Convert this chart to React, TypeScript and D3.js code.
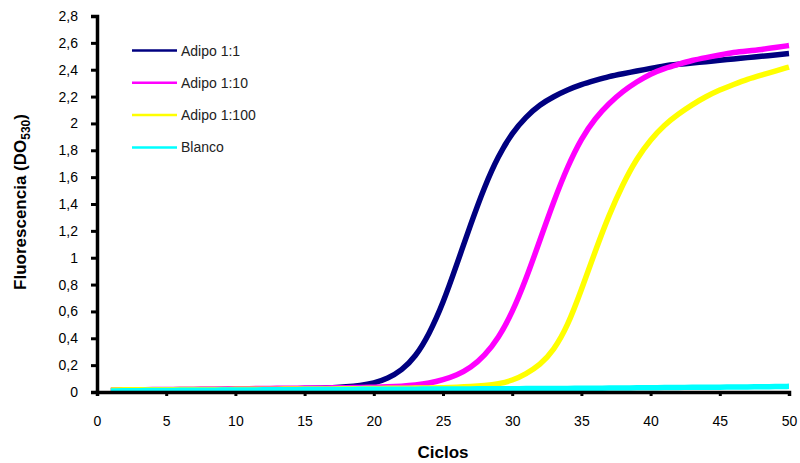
import React, { useRef, useEffect } from 'react';
import * as d3 from 'd3';

// cycles 1..50
const ciclos = d3.range(1, 51);

const adipo1 = [
  0.010, 0.010, 0.012, 0.013, 0.014, 0.015, 0.016, 0.017, 0.018, 0.019,
  0.020, 0.021, 0.022, 0.024, 0.026, 0.028, 0.032, 0.038, 0.048, 0.065,
  0.100, 0.160, 0.260, 0.430, 0.660, 0.950, 1.250, 1.530, 1.760, 1.930,
  2.050, 2.140, 2.200, 2.250, 2.290, 2.320, 2.350, 2.370, 2.390, 2.410,
  2.430, 2.440, 2.450, 2.460, 2.470, 2.480, 2.490, 2.500, 2.510, 2.520,
];

const adipo10 = [
  0.015, 0.016, 0.017, 0.018, 0.019, 0.020, 0.021, 0.022, 0.023, 0.024,
  0.025, 0.026, 0.027, 0.028, 0.029, 0.030, 0.031, 0.032, 0.033, 0.035,
  0.038, 0.043, 0.051, 0.065, 0.090, 0.125, 0.180, 0.270, 0.400, 0.590,
  0.840, 1.130, 1.420, 1.680, 1.890, 2.040, 2.150, 2.240, 2.310, 2.370,
  2.410, 2.440, 2.470, 2.490, 2.510, 2.530, 2.540, 2.550, 2.565, 2.580,
];

const adipo100 = [
  0.015, 0.016, 0.016, 0.017, 0.017, 0.018, 0.018, 0.019, 0.019, 0.020,
  0.020, 0.021, 0.021, 0.022, 0.022, 0.023, 0.023, 0.024, 0.025, 0.026,
  0.027, 0.028, 0.029, 0.030, 0.032, 0.035, 0.040, 0.048, 0.060, 0.085,
  0.135, 0.200, 0.310, 0.490, 0.760, 1.050, 1.320, 1.550, 1.740, 1.880,
  1.990, 2.070, 2.140, 2.200, 2.250, 2.290, 2.330, 2.360, 2.390, 2.420,
];

const blanco = [
  0.008, 0.009, 0.010, 0.011, 0.012, 0.012, 0.013, 0.013, 0.014, 0.015,
  0.015, 0.016, 0.016, 0.017, 0.018, 0.018, 0.019, 0.019, 0.020, 0.020,
  0.020, 0.021, 0.021, 0.022, 0.022, 0.023, 0.023, 0.024, 0.024, 0.025,
  0.025, 0.026, 0.026, 0.027, 0.027, 0.028, 0.029, 0.030, 0.031, 0.032,
  0.033, 0.034, 0.035, 0.035, 0.036, 0.037, 0.038, 0.039, 0.040, 0.042,
];

const seriesNames = ['Adipo 1:1', 'Adipo 1:10', 'Adipo 1:100', 'Blanco'];
const seriesColors = ['#000080', '#FF00FF', '#FFFF00', '#00FFFF'];
const seriesValues = [adipo1, adipo10, adipo100, blanco];

const xTicks = [0, 5, 10, 15, 20, 25, 30, 35, 40, 45, 50];
const yTicks = [0, 0.2, 0.4, 0.6, 0.8, 1, 1.2, 1.4, 1.6, 1.8, 2, 2.2, 2.4, 2.6, 2.8];

const W = 800, H = 463;
const margin = { top: 16, right: 11, bottom: 71, left: 97 };
const font = 'Arial, "Liberation Sans", sans-serif';

const App = () => {
  const ref = useRef(null);

  useEffect(() => {
    const svg = d3.select(ref.current);
    svg.selectAll('*').remove();

    const x = d3.scaleLinear().domain([0, 50]).range([margin.left, W - margin.right]);
    const y = d3.scaleLinear().domain([0, 2.8]).range([H - margin.bottom, margin.top]);
    const fmt = (v) => String(+v.toFixed(1)).replace('.', ',');

    // lines
    const line = d3.line()
      .x((d, i) => x(ciclos[i]))
      .y((d) => y(d))
      .curve(d3.curveBasis);

    seriesValues.forEach((vals, k) => {
      svg.append('path')
        .attr('d', line(vals))
        .attr('fill', 'none')
        .attr('stroke', seriesColors[k])
        .attr('stroke-width', 5.5)
        .attr('stroke-linejoin', 'round');
    });

    // y axis
    const yAxis = svg.append('g')
      .attr('transform', `translate(${margin.left},0)`)
      .call(d3.axisLeft(y).tickValues(yTicks).tickFormat(fmt).tickSize(6).tickPadding(13));
    yAxis.select('.domain').attr('stroke', '#000').attr('stroke-width', 3.5);
    yAxis.selectAll('.tick line').attr('stroke', '#000').attr('stroke-width', 3);
    yAxis.selectAll('.tick text')
      .attr('font-family', font).attr('font-size', 14).attr('fill', '#000');

    // x axis
    const xAxis = svg.append('g')
      .attr('transform', `translate(0,${H - margin.bottom})`)
      .call(d3.axisBottom(x).tickValues(xTicks).tickFormat(d3.format('d')).tickSize(4).tickPadding(20));
    xAxis.select('.domain').attr('stroke', '#000').attr('stroke-width', 3.5);
    xAxis.selectAll('.tick line').attr('stroke', '#000').attr('stroke-width', 3);
    xAxis.selectAll('.tick text')
      .attr('font-family', font).attr('font-size', 14).attr('fill', '#000');

    // titles
    svg.append('text')
      .attr('x', (margin.left + W - margin.right) / 2)
      .attr('y', 458)
      .attr('text-anchor', 'middle')
      .attr('font-family', font).attr('font-size', 17).attr('font-weight', 'bold')
      .text('Ciclos');

    const yt = svg.append('text')
      .attr('transform', `translate(26,202) rotate(-90)`)
      .attr('text-anchor', 'middle')
      .attr('font-family', font).attr('font-size', 17).attr('font-weight', 'bold');
    yt.append('tspan').text('Fluorescencia (DO');
    yt.append('tspan').attr('font-size', 12).attr('dy', 4).text('530');
    yt.append('tspan').attr('dy', -4).text(')');

    // legend
    const leg = svg.append('g');
    seriesNames.forEach((name, k) => {
      const ly = 50.5 + k * 32.3;
      leg.append('line')
        .attr('x1', 132).attr('x2', 177).attr('y1', ly).attr('y2', ly)
        .attr('stroke', seriesColors[k]).attr('stroke-width', 2.5);
      leg.append('text')
        .attr('x', 181).attr('y', ly + 5)
        .attr('font-family', font).attr('font-size', 14).attr('fill', '#222')
        .text(name);
    });
  }, []);

  return (
    <svg
      ref={ref}
      width={W}
      height={H}
      style={{ position: 'absolute', left: 0, top: 0, background: '#fff' }}
    />
  );
};

export default App;
